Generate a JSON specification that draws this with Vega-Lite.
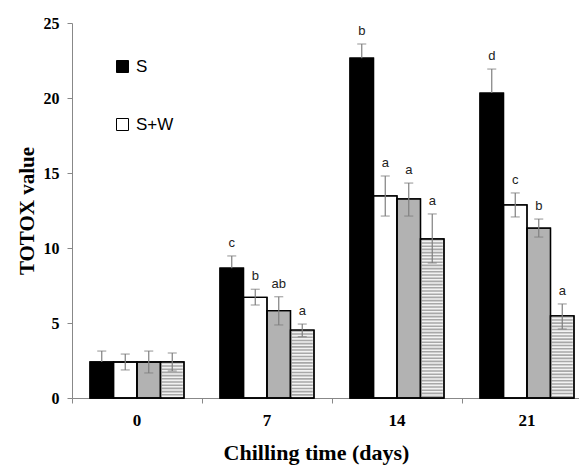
{
  "$schema": "https://vega.github.io/schema/vega-lite/v6.json",
  "width": 507,
  "height": 375,
  "autosize": {"type": "none"},
  "padding": {"left": 72, "top": 23, "right": 0, "bottom": 67},
  "background": "white",
  "config": {"view": {"stroke": null}, "axis": {"grid": false}},
  "data": {
    "values": [
      {"day": "0", "treatment": "S", "value": 2.4, "lo": 1.67, "hi": 3.13, "letter": ""},
      {"day": "0", "treatment": "S+W", "value": 2.4, "lo": 1.87, "hi": 2.93, "letter": ""},
      {"day": "0", "treatment": "S+G", "value": 2.4, "lo": 1.67, "hi": 3.13, "letter": ""},
      {"day": "0", "treatment": "S+W+G", "value": 2.4, "lo": 1.8, "hi": 3.0, "letter": ""},
      {"day": "7", "treatment": "S", "value": 8.65, "lo": 7.83, "hi": 9.47, "letter": "c"},
      {"day": "7", "treatment": "S+W", "value": 6.71, "lo": 6.2, "hi": 7.25, "letter": "b"},
      {"day": "7", "treatment": "S+G", "value": 5.82, "lo": 4.87, "hi": 6.75, "letter": "ab"},
      {"day": "7", "treatment": "S+W+G", "value": 4.53, "lo": 4.09, "hi": 4.93, "letter": "a"},
      {"day": "14", "treatment": "S", "value": 22.65, "lo": 21.7, "hi": 23.6, "letter": "b"},
      {"day": "14", "treatment": "S+W", "value": 13.47, "lo": 12.13, "hi": 14.8, "letter": "a"},
      {"day": "14", "treatment": "S+G", "value": 13.27, "lo": 12.13, "hi": 14.33, "letter": "a"},
      {"day": "14", "treatment": "S+W+G", "value": 10.6, "lo": 9.0, "hi": 12.27, "letter": "a"},
      {"day": "21", "treatment": "S", "value": 20.33, "lo": 18.73, "hi": 21.93, "letter": "d"},
      {"day": "21", "treatment": "S+W", "value": 12.87, "lo": 12.07, "hi": 13.67, "letter": "c"},
      {"day": "21", "treatment": "S+G", "value": 11.33, "lo": 10.73, "hi": 11.93, "letter": "b"},
      {"day": "21", "treatment": "S+W+G", "value": 5.47, "lo": 4.6, "hi": 6.27, "letter": "a"}
    ]
  },
  "encoding": {
    "x": {
      "field": "day",
      "type": "nominal",
      "sort": ["0", "7", "14", "21"],
      "scale": {"domain": ["0", "7", "14", "21"], "range": [0, 520], "paddingInner": 0, "paddingOuter": 0},
      "axis": {
        "bandPosition": 0,
        "labelAngle": 0,
        "tickSize": 5,
        "domainColor": "#888888",
        "tickColor": "#888888",
        "labelFont": "Liberation Serif",
        "labelFontWeight": "bold",
        "labelFontSize": 17,
        "labelColor": "black",
        "labelPadding": 9,
        "title": "Chilling time (days)",
        "titleFont": "Liberation Serif",
        "titleFontSize": 22,
        "titleFontWeight": "bold",
        "titleColor": "black",
        "titleX": 244,
        "titleY": 61,
        "titleAlign": "center",
        "titleBaseline": "alphabetic"
      }
    },
    "xOffset": {
      "field": "treatment",
      "type": "nominal",
      "scale": {"domain": ["S", "S+W", "S+G", "S+W+G"], "paddingInner": 0, "paddingOuter": 0.766}
    }
  },
  "layer": [
    {
      "mark": {"type": "bar", "stroke": "black", "strokeWidth": 1.3},
      "encoding": {
        "y": {
          "field": "value",
          "type": "quantitative",
          "title": "TOTOX value",
          "scale": {"domain": [0, 25], "nice": false},
          "axis": {
            "values": [0, 5, 10, 15, 20, 25],
            "tickSize": 5,
            "domainColor": "#888888",
            "tickColor": "#888888",
            "labelFont": "Liberation Serif",
            "labelFontWeight": "bold",
            "labelFontSize": 16,
            "labelColor": "black",
            "labelPadding": 8,
            "titleFont": "Liberation Serif",
            "titleFontSize": 21,
            "titleFontWeight": "bold",
            "titleColor": "black",
            "titleX": -39,
            "titleY": 187.5,
            "titleAngle": -90,
            "titleAlign": "center",
            "titleBaseline": "alphabetic"
          }
        },
        "fill": {
          "field": "treatment",
          "type": "nominal",
          "scale": {"domain": ["S", "S+W", "S+G", "S+W+G"], "range": ["#000000", "#ffffff", "#b2b2b2", "#f2f2f2"]},
          "legend": {
            "values": ["S", "S+W"],
            "title": null,
            "orient": "none",
            "legendX": 42,
            "legendY": 35,
            "symbolType": "square",
            "symbolSize": 144,
            "symbolStrokeColor": "black",
            "symbolStrokeWidth": 1,
            "symbolOpacity": 1,
            "labelFont": "Liberation Sans",
            "labelFontSize": 17,
            "labelColor": "black",
            "labelOffset": 5,
            "rowPadding": 40
          }
        }
      }
    },
    {
      "transform": [{"filter": "datum.treatment === 'S+W+G'"}],
      "mark": {"type": "rule", "stroke": "#a8a8a8", "strokeWidth": 21, "strokeDash": [1.6, 1.6], "strokeCap": "butt"},
      "encoding": {
        "y": {"field": "value", "type": "quantitative", "title": "TOTOX value"},
        "y2": {"datum": 0}
      }
    },
    {
      "mark": {"type": "bar", "fillOpacity": 0, "stroke": "black", "strokeWidth": 1.3},
      "encoding": {
        "y": {"field": "value", "type": "quantitative", "title": "TOTOX value"}
      }
    },
    {
      "mark": {"type": "rule", "stroke": "#7f7f7f", "strokeWidth": 1.2},
      "encoding": {
        "y": {"field": "value", "type": "quantitative", "title": "TOTOX value"},
        "y2": {"field": "hi"}
      }
    },
    {
      "transform": [{"filter": "datum.treatment !== 'S'"}],
      "mark": {"type": "rule", "stroke": "#7f7f7f", "strokeWidth": 1.2},
      "encoding": {
        "y": {"field": "lo", "type": "quantitative", "title": "TOTOX value"},
        "y2": {"field": "value"}
      }
    },
    {
      "mark": {"type": "tick", "orient": "horizontal", "size": 9, "thickness": 1.2, "color": "#7f7f7f"},
      "encoding": {
        "y": {"field": "hi", "type": "quantitative", "title": "TOTOX value"}
      }
    },
    {
      "transform": [{"filter": "datum.treatment !== 'S'"}],
      "mark": {"type": "tick", "orient": "horizontal", "size": 9, "thickness": 1.2, "color": "#7f7f7f"},
      "encoding": {
        "y": {"field": "lo", "type": "quantitative", "title": "TOTOX value"}
      }
    },
    {
      "transform": [{"filter": "datum.letter !== ''"}],
      "mark": {"type": "text", "font": "Liberation Sans", "fontSize": 13, "fill": "#222222", "baseline": "alphabetic", "dy": -9},
      "encoding": {
        "y": {"field": "hi", "type": "quantitative", "title": "TOTOX value"},
        "text": {"field": "letter"}
      }
    }
  ]
}
